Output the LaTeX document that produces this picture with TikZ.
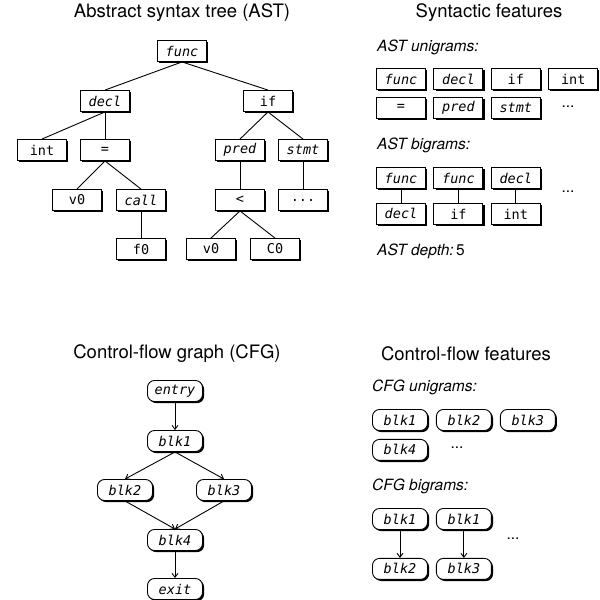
\documentclass[tikz,border=0pt]{standalone}
\usepackage{fontspec}
\setsansfont{TeX Gyre Heros}
\newfontfamily\codefont{DejaVu Sans Mono}
\usetikzlibrary{arrows.meta, positioning, shadows}

\begin{document}
\begin{tikzpicture}[x=1pt, y=-1pt,
    title/.style={font=\sffamily\fontsize{18.5}{22}\selectfont},
    lbl/.style={anchor=west, inner sep=0pt, font=\sffamily\itshape\fontsize{15.5}{18}\selectfont},
    more/.style={font=\sffamily\fontsize{15.5}{18}\selectfont},
    ast/.style={draw, fill=white, line width=0.9pt, minimum width=49pt,
                minimum height=21pt, inner sep=1pt,
                font=\codefont\fontsize{13.5}{15}\selectfont,
                drop shadow={shadow xshift=1.6pt, shadow yshift=-1.6pt, fill=black, opacity=1}},
    nt/.style={font=\codefont\itshape\fontsize{13.5}{15}\selectfont},
    cfg/.style={ast, rounded corners=7pt, minimum width=55pt},
    link/.style={line width=0.9pt},
    arr/.style={-{Straight Barb[length=4pt,width=6pt]}, line width=0.9pt},
]
  \useasboundingbox (0,0) rectangle (600,600);

  % titles
  \node[title] (asttitle) at (182,13) {Abstract syntax tree (AST)};
  \node[title] (syntitle) at (489,13) {Syntactic features};
  \node[title] (cfgtitle) at (177,354) {Control-flow graph (CFG)};
  \node[title] (cftitle)  at (466,354) {Control-flow features};

  % abstract syntax tree
  \node[ast,nt] (func) at (182,51)  {func};
  \node[ast,nt] (decl) at (105,101) {decl};
  \node[ast]    (if)   at (268,101) {if};
  \node[ast]    (int)  at (42,150)  {int};
  \node[ast]    (eq)   at (105,150) {=};
  \node[ast,nt] (pred) at (240,150) {pred};
  \node[ast,nt] (stmt) at (303,150) {stmt};
  \node[ast]    (va)   at (77,200)  {v0};
  \node[ast,nt] (call) at (141,200) {call};
  \node[ast]    (lt)   at (240,200) {<};
  \node[ast]    (rest) at (303,200) {...};
  \node[ast]    (f0)   at (141,249) {f0};
  \node[ast]    (vb)   at (211,249) {v0};
  \node[ast]    (c0)   at (275,249) {C0};

  \draw[link] (func.south) -- (decl.north);
  \draw[link] (func.south) -- (if.north);
  \draw[link] (decl.south) -- (int.north);
  \draw[link] (decl.south) -- (eq.north);
  \draw[link] (eq.south) -- (va.north);
  \draw[link] (eq.south) -- (call.north);
  \draw[link] (call.south) -- (f0.north);
  \draw[link] (if.south) -- (pred.north);
  \draw[link] (if.south) -- (stmt.north);
  \draw[link] (pred.south) -- (lt.north);
  \draw[link] (stmt.south) -- (rest.north);
  \draw[link] (lt.south) -- (vb.north);
  \draw[link] (lt.south) -- (c0.north);

  % syntactic features
  \node[lbl] (astuni) at (377,47) {AST unigrams:};
  \node[ast,nt] (u1) at (401,79) {func};
  \node[ast,nt,right=7.5pt of u1] (u2) {decl};
  \node[ast,right=7.5pt of u2] (u3) {if};
  \node[ast,right=7.5pt of u3] (u4) {int};
  \node[ast,below=7pt of u1] (u5) {=};
  \node[ast,nt,below=7pt of u2] (u6) {pred};
  \node[ast,nt,below=7pt of u3] (u7) {stmt};
  \node[more] (umore) at (568,107) {...};

  \node[lbl] (astbi) at (377,145) {AST bigrams:};
  \node[ast,nt] (b1a) at (401,178) {func};
  \node[ast,nt,below=14pt of b1a] (b1b) {decl};
  \node[ast,nt,right=7.5pt of b1a] (b2a) {func};
  \node[ast,below=14pt of b2a] (b2b) {if};
  \node[ast,nt,right=7.5pt of b2a] (b3a) {decl};
  \node[ast,below=14pt of b3a] (b3b) {int};
  \draw[link] (b1a) -- (b1b);
  \draw[link] (b2a) -- (b2b);
  \draw[link] (b3a) -- (b3b);
  \node[more] (bmore) at (568,192) {...};

  \node[lbl] (depth) at (377,251) {AST depth:\hspace{0.15em}\upshape 5};

  % control-flow graph
  \node[cfg,nt] (entry) at (175,391) {entry};
  \node[cfg,nt] (blk1)  at (175,441) {blk1};
  \node[cfg,nt] (blk2)  at (125,490) {blk2};
  \node[cfg,nt] (blk3)  at (224,490) {blk3};
  \node[cfg,nt] (blk4)  at (175,540) {blk4};
  \node[cfg,nt] (exit)  at (175,589) {exit};

  \draw[arr] (entry) -- (blk1);
  \draw[arr] (blk1.south) -- (blk2.north);
  \draw[arr] (blk1.south) -- (blk3.north);
  \draw[arr] (blk2.south) -- (blk4.north);
  \draw[arr] (blk3.south) -- (blk4.north);
  \draw[arr] (blk4) -- (exit);

  % control-flow features
  \node[lbl] (cfguni) at (372,387) {CFG unigrams:};
  \node[cfg,nt] (c1) at (400,420) {blk1};
  \node[cfg,nt,right=8pt of c1] (c2) {blk2};
  \node[cfg,nt,right=8pt of c2] (c3) {blk3};
  \node[cfg,nt,below=8pt of c1] (c4) {blk4};
  \node[more] (cmore) at (457,448) {...};

  \node[lbl] (cfgbi) at (372,486) {CFG bigrams:};
  \node[cfg,nt] (d1a) at (400,519) {blk1};
  \node[cfg,nt,below=28pt of d1a] (d1b) {blk2};
  \node[cfg,nt,right=8pt of d1a] (d2a) {blk1};
  \node[cfg,nt,below=28pt of d2a] (d2b) {blk3};
  \draw[arr] (d1a) -- (d1b);
  \draw[arr] (d2a) -- (d2b);
  \node[more] (dmore) at (513,539) {...};
\end{tikzpicture}
\end{document}
